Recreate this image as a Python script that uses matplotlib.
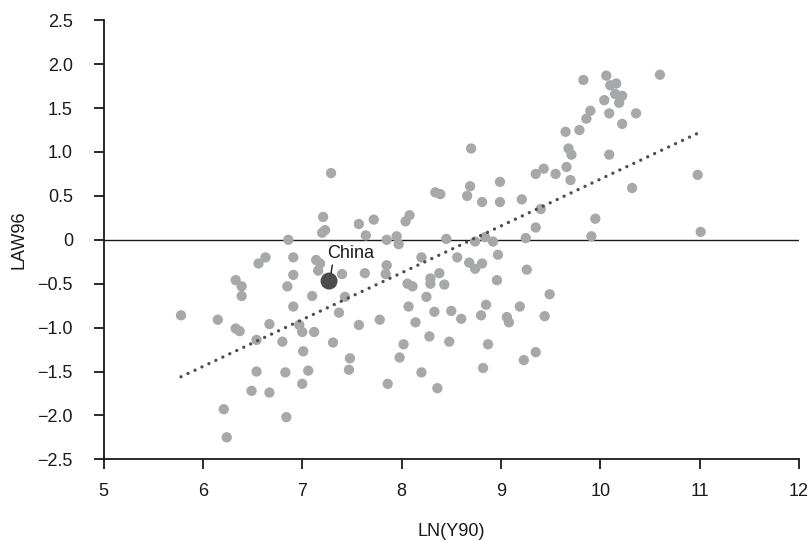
import matplotlib
matplotlib.use("Agg")
import matplotlib.pyplot as plt
import numpy as np

plt.rcParams['font.family'] = ['Liberation Sans', 'DejaVu Sans']

# data
ln_y90 = [5.78, 6.15, 6.21, 6.24, 6.33, 6.39, 6.39, 6.33, 6.37, 6.49,
          6.54, 6.54, 6.56, 6.63, 6.67, 6.67, 6.80, 6.83, 6.84, 6.85,
          6.86, 6.91, 6.91, 6.91, 6.97, 7.00, 7.01, 7.00, 7.06, 7.10,
          7.12, 7.14, 7.18, 7.16, 7.20, 7.23, 7.21, 7.29, 7.31, 7.37,
          7.40, 7.43, 7.47, 7.48, 7.57, 7.57, 7.63, 7.64, 7.72, 7.78,
          7.85, 7.85, 7.84, 7.86, 7.95, 7.97, 7.98, 8.02, 8.04, 8.08,
          8.06, 8.11, 8.07, 8.14, 8.20, 8.20, 8.25, 8.29, 8.29, 8.28,
          8.33, 8.34, 8.39, 8.38, 8.36, 8.43, 8.45, 8.48, 8.50, 8.56,
          8.60, 8.66, 8.69, 8.70, 8.68, 8.74, 8.74, 8.81, 8.81, 8.84,
          8.80, 8.85, 8.82, 8.87, 8.92, 8.96, 8.97, 8.99, 8.99, 9.06,
          9.08, 9.19, 9.21, 9.23, 9.25, 9.26, 9.35, 9.35, 9.35, 9.40,
          9.43, 9.44, 9.49, 9.55, 9.65, 9.66, 9.68, 9.70, 9.71, 9.79,
          9.83, 9.86, 9.90, 9.91, 9.95, 10.04, 10.06, 10.09, 10.09, 10.10,
          10.15, 10.16, 10.19, 10.22, 10.22, 10.32, 10.36, 10.60, 10.98, 11.01]
law96 = [-0.86, -0.91, -1.93, -2.25, -0.46, -0.53, -0.64, -1.01, -1.04, -1.72,
         -1.14, -1.50, -0.27, -0.20, -0.96, -1.74, -1.16, -1.51, -2.02, -0.53,
         0.00, -0.20, -0.40, -0.76, -0.97, -1.05, -1.27, -1.64, -1.49, -0.64,
         -1.05, -0.23, -0.27, -0.35, 0.08, 0.11, 0.26, 0.76, -1.17, -0.83,
         -0.39, -0.65, -1.48, -1.35, 0.18, -0.97, -0.38, 0.05, 0.23, -0.91,
         0.00, -0.29, -0.39, -1.64, 0.04, -0.05, -1.34, -1.19, 0.21, 0.28,
         -0.50, -0.53, -0.76, -0.94, -0.20, -1.51, -0.65, -0.44, -0.50, -1.10,
         -0.82, 0.54, 0.52, -0.38, -1.69, -0.51, 0.01, -1.16, -0.81, -0.20,
         -0.90, 0.50, 0.61, 1.04, -0.26, -0.02, -0.33, -0.27, 0.43, 0.03,
         -0.86, -0.74, -1.46, -1.19, -0.02, -0.46, -0.17, 0.66, 0.43, -0.88,
         -0.94, -0.76, 0.46, -1.37, 0.02, -0.34, 0.75, 0.14, -1.28, 0.35,
         0.81, -0.87, -0.62, 0.75, 1.23, 0.83, 1.04, 0.68, 0.97, 1.25,
         1.82, 1.38, 1.47, 0.04, 0.24, 1.59, 1.87, 0.97, 1.44, 1.76,
         1.66, 1.78, 1.56, 1.64, 1.32, 0.59, 1.44, 1.88, 0.74, 0.09]

china_x, china_y = 7.27, -0.47
trend_x = [5.78, 11.03]
trend_y = [-1.56, 1.24]

x_ticks = [5, 6, 7, 8, 9, 10, 11, 12]
y_ticks = [-2.5, -2.0, -1.5, -1.0, -0.5, 0, 0.5, 1.0, 1.5, 2.0, 2.5]
y_labels = ['\u22122.5', '\u22122.0', '\u22121.5', '\u22121.0', '\u22120.5', '0',
            '0.5', '1.0', '1.5', '2.0', '2.5']

fig = plt.figure(figsize=(8.12, 5.41), dpi=100)
ax = fig.add_axes([0.1275, 0.151, 0.8565, 0.8115])

# zero line
ax.axhline(0, color='#1a1a1a', lw=1.0, zorder=1)

ax.scatter(ln_y90, law96, s=55, color='#a7a8ab', edgecolors='none', zorder=2)
ax.scatter([china_x], [china_y], s=150, color='#4d4d4f', edgecolors='none', zorder=3)

# dotted trend
ax.plot(trend_x, trend_y, color='#4d4d4f', lw=2.4, dashes=(0.01, 2.3),
        dash_capstyle='round', zorder=4)

ax.annotate('China', xy=(china_x + 0.02, china_y + 0.09), xytext=(7.25, -0.16),
            fontsize=13, color='#1a1a1a', ha='left', va='center',
            arrowprops=dict(arrowstyle='-', color='#1a1a1a', lw=1.0,
                            shrinkA=0, shrinkB=0, relpos=(0.12, 0)))

ax.set_xlim(5, 12)
ax.set_ylim(-2.5, 2.5)
ax.set_xticks(x_ticks)
ax.set_yticks(y_ticks)
ax.set_yticklabels(y_labels)

for side in ['top', 'right']:
    ax.spines[side].set_visible(False)
for side in ['left', 'bottom']:
    ax.spines[side].set_linewidth(1.3)
    ax.spines[side].set_color('#1a1a1a')

ax.tick_params(axis='both', direction='out', length=7, width=1.3, color='#1a1a1a',
               labelsize=13, labelcolor='#1a1a1a')
ax.tick_params(axis='x', pad=10)
ax.tick_params(axis='y', pad=15)

ax.set_xlabel('LN(Y90)', fontsize=13, color='#1a1a1a')
ax.set_ylabel('LAW96', fontsize=13, color='#1a1a1a')
ax.xaxis.set_label_coords(0.5, -0.145)
ax.yaxis.set_label_coords(-0.11, 0.5)

fig.savefig('out.png', dpi=100)
